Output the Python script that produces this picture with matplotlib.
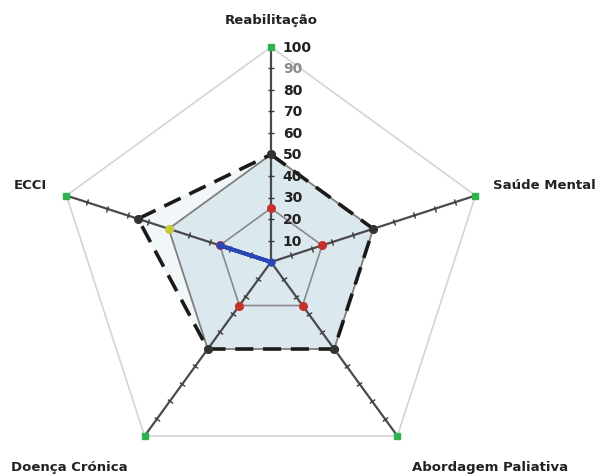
import numpy as np
import matplotlib.pyplot as plt

categories = ['Reabilitação', 'Saúde Mental', 'Abordagem Paliativa', 'Doença Crónica', 'ECCI']
max_values = [100, 100, 100, 100, 100]
dashed_values = [50, 50, 50, 50, 65]
main_values = [50, 50, 50, 50, 50]
red_values = [25, 25, 25, 25, 25]
blue_values = [0, 0, 0, 0, 25]
ring_ticks = [10, 20, 30, 40, 50, 60, 70, 80, 90, 100]

angles = np.deg2rad(90 - 72 * np.arange(len(categories)))


def to_xy(values, closed=True):
    v = np.asarray(values, dtype=float)
    x = v * np.cos(angles)
    y = v * np.sin(angles)
    if closed:
        x = np.append(x, x[0])
        y = np.append(y, y[0])
    return x, y


fig = plt.figure(figsize=(6.0, 4.77), dpi=100)
ax = fig.add_axes([0, 0, 1, 1])
ax.set_xlim(-126, 153)
ax.set_ylim(-99.5, 122.3)
ax.set_aspect('equal')
ax.axis('off')

# fills
x, y = to_xy(dashed_values)
ax.fill(x, y, color='#f1f6f8', zorder=1)
x, y = to_xy(main_values)
ax.fill(x, y, color='#dbe8ee', zorder=1)

# outer pentagon (100)
x, y = to_xy(max_values)
ax.plot(x, y, color='#d4d4d4', lw=1.2, zorder=2)

# axes with tick marks
for ang in angles:
    ax.plot([0, 100 * np.cos(ang)], [0, 100 * np.sin(ang)], color='#4a4a4a', lw=1.6, zorder=3)
    tv = np.array(ring_ticks[:-1], dtype=float)
    ax.scatter(tv * np.cos(ang), tv * np.sin(ang), marker=(2, 0, np.rad2deg(ang)),
               s=22, color='#3a3a3a', linewidths=1.0, zorder=3)

# inner red series
x, y = to_xy(red_values)
ax.plot(x, y, color='#8a8a8a', lw=1.2, zorder=4)
ax.plot(x[:-1], y[:-1], 'o', color='#c8302c', ms=5.5, zorder=6)

# main series
x, y = to_xy(main_values)
ax.plot(x, y, color='#7f7f7f', lw=1.3, zorder=4)
ax.plot(x[:-1], y[:-1], 'o', color='#c9c93a', ms=5.5, zorder=5)

# dashed series
x, y = to_xy(dashed_values)
ax.plot(x, y, color='#1a1a1a', lw=2.6, ls=(0, (5, 2.7)), zorder=5)
ax.plot(x[:-1], y[:-1], 'o', color='#333333', ms=5.5, zorder=6)

# blue series
x, y = to_xy(blue_values)
ax.plot(x, y, color='#2848b8', lw=2.8, zorder=6)
ax.plot(x[:-1], y[:-1], 'o', color='#2848b8', ms=4.5, zorder=7)

# outer markers
x, y = to_xy(max_values, closed=False)
ax.plot(x, y, 's', color='#2fb34f', ms=5, zorder=7)

# radial labels
for t in ring_ticks:
    ax.text(5.5, t, str(t), fontsize=10, fontweight='bold', color='#222222' if t != 90 else '#8a8a8a',
            ha='left', va='center', zorder=8)

# category labels
label_pos = [(0, 113), (127, 36), (102, -95), (-94, -95), (-112, 36)]
for name, (px, py) in zip(categories, label_pos):
    ax.text(px, py, name, fontsize=9.5, fontweight='bold', color='#222222',
            ha='center', va='center')

fig.savefig('out.png', dpi=100)
